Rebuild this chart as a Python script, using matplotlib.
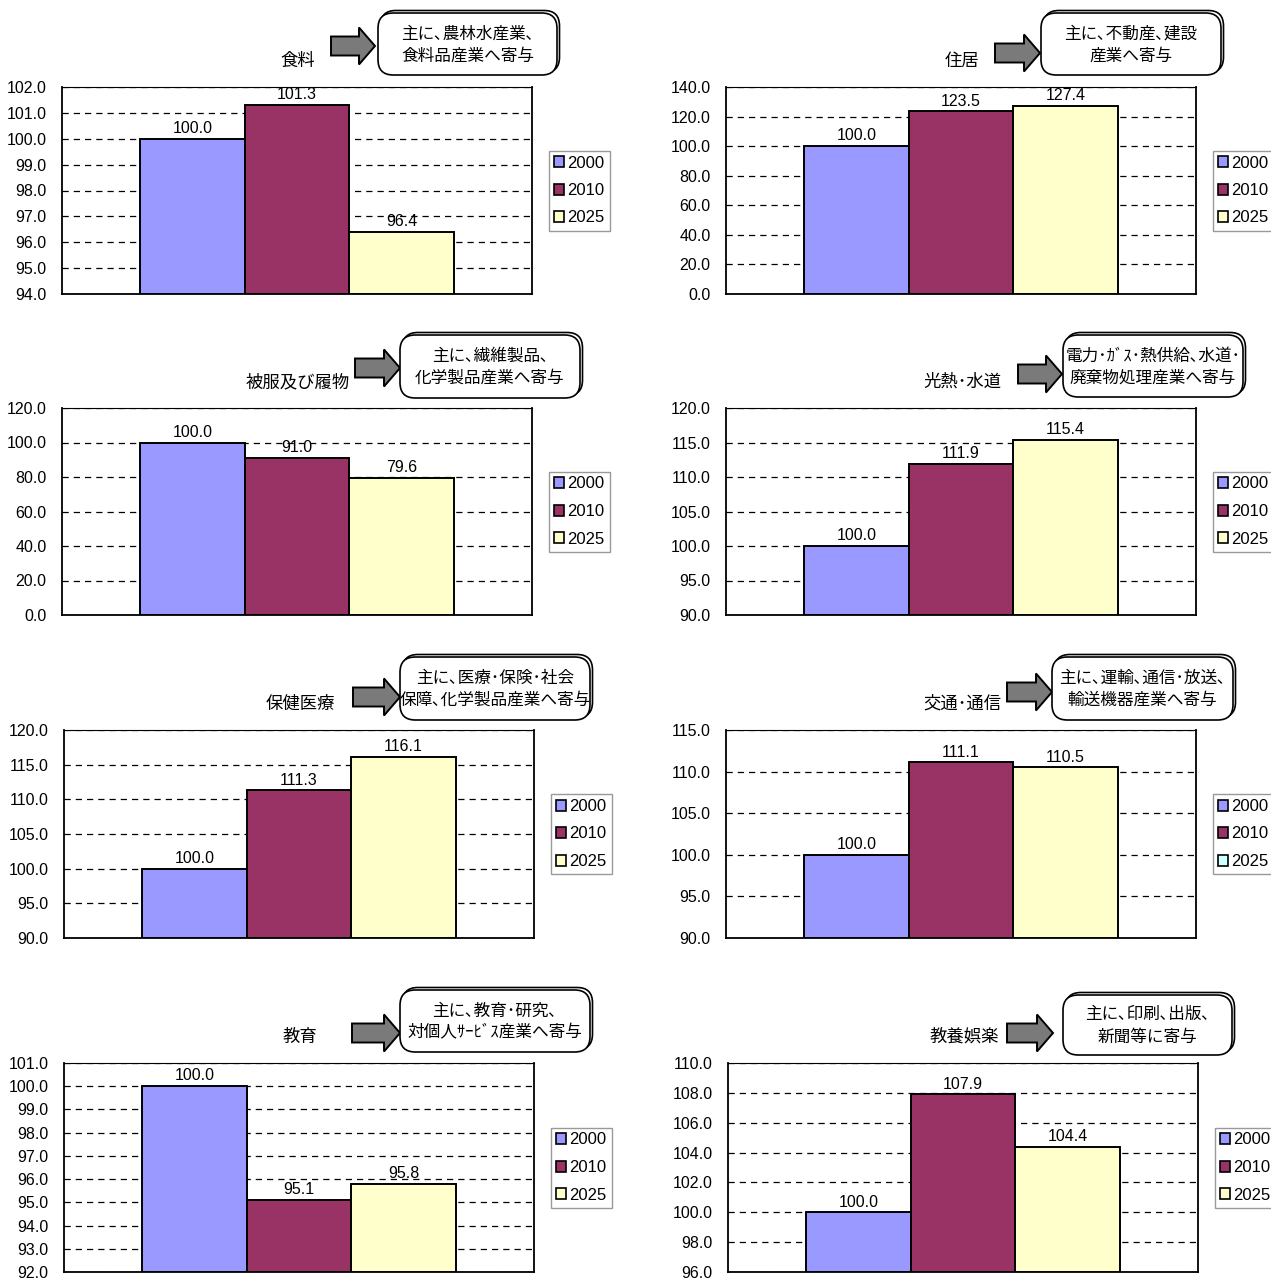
import matplotlib
matplotlib.use("Agg")
import matplotlib.pyplot as plt
from matplotlib.patches import Patch, Polygon, FancyBboxPatch

# 消費支出項目別の指数 (2000年=100)
years = ["2000", "2010", "2025"]
titles = ["食料", "住居", "被服及び履物", "光熱･水道",
          "保健医療", "交通･通信", "教育", "教養娯楽"]
notes = [
    "主に､農林水産業､\n食料品産業へ寄与",
    "主に､不動産､建設\n産業へ寄与",
    "主に､繊維製品､\n化学製品産業へ寄与",
    "電力･ｶﾞｽ･熱供給､水道･\n廃棄物処理産業へ寄与",
    "主に､医療･保険･社会\n保障､化学製品産業へ寄与",
    "主に､運輸､通信･放送､\n輸送機器産業へ寄与",
    "主に､教育･研究､\n対個人ｻｰﾋﾞｽ産業へ寄与",
    "主に､印刷､出版､\n新聞等に寄与",
]
idx_2000 = [100.0, 100.0, 100.0, 100.0, 100.0, 100.0, 100.0, 100.0]
idx_2010 = [101.3, 123.5, 91.0, 111.9, 111.3, 111.1, 95.1, 107.9]
idx_2025 = [96.4, 127.4, 79.6, 115.4, 116.1, 110.5, 95.8, 104.4]
y_min = [94, 0, 0, 90, 90, 90, 92, 96]
y_max = [102, 140, 120, 120, 120, 115, 101, 110]
y_step = [1, 20, 20, 5, 5, 5, 1, 2]

colors = ["#9999FF", "#993366", "#FFFFCC"]
legend_colors = [colors] * 8
legend_colors[5] = ["#9999FF", "#993366", "#CCFFFF"]

W, H = 1271, 1282
NUM_FONT = ["Liberation Sans", "DejaVu Sans"]
JP_FONT = ["Noto Sans CJK JP", "DejaVu Sans"]

# (axes left, axes top, axes height) in pixels
axes_pos = [(62, 87, 207), (726, 87, 207),
            (62, 408, 207), (726, 408, 207),
            (64, 730, 208), (726, 730, 208),
            (64, 1063, 209), (728, 1063, 209)]
# arrow x0, x1, y-mid ; callout box x0, x1, y0, y1
callouts = [(331, 375, 46, 378, 557, 13, 75),
            (995, 1040, 53, 1041, 1221, 13, 75),
            (355, 400, 368, 400, 580, 335, 398),
            (1018, 1062, 374, 1063, 1243, 335, 397),
            (353, 400, 697, 400, 590, 657, 720),
            (1007, 1052, 692, 1052, 1233, 657, 720),
            (352, 400, 1033, 400, 590, 990, 1052),
            (1007, 1053, 1033, 1063, 1232, 995, 1055)]
AX_W = 470


def fx(x):
    return x / W


def fy(y):
    return 1 - y / H


def draw_arrow(fig, x0, x1, ym):
    head = 16
    body = 9.5
    half = 18.5
    pts = [(x0, ym - body), (x1 - head, ym - body), (x1 - head, ym - half),
           (x1, ym), (x1 - head, ym + half), (x1 - head, ym + body),
           (x0, ym + body)]
    fig.patches.append(Polygon([(fx(x), fy(y)) for x, y in pts], closed=True,
                               transform=fig.transFigure, facecolor="#7a7a7a",
                               edgecolor="black", linewidth=1.4))


def draw_callout(fig, text, x0, x1, y0, y1):
    for dx, dy, z in [(2.5, -2.5, 1), (0, 0, 2)]:
        box = FancyBboxPatch((fx(x0 + dx), fy(y1 + dy)), fx(x1 - x0), (y1 - y0) / H,
                             boxstyle="round,pad=0,rounding_size=0.012",
                             transform=fig.transFigure, facecolor="white",
                             edgecolor="black", linewidth=1.2, zorder=z)
        fig.patches.append(box)
    fig.text(fx((x0 + x1) / 2), fy((y0 + y1) / 2 + 1), text, ha="center", va="center",
             family=JP_FONT, fontsize=12, linespacing=1.4, zorder=3)


fig = plt.figure(figsize=(W / 100, H / 100), dpi=100)

for i in range(8):
    left, top, h = axes_pos[i]
    ax = fig.add_axes([fx(left), fy(top + h), AX_W / W, h / H])
    vals = [idx_2000[i], idx_2010[i], idx_2025[i]]
    xs = [-1 / 3, 0, 1 / 3]
    bars = ax.bar(xs, [v - y_min[i] for v in vals], bottom=y_min[i], width=1 / 3,
                  color=colors, edgecolor="black", linewidth=1.4, zorder=3)
    for b, v in zip(bars, vals):
        ax.annotate(f"{v:.1f}", (b.get_x() + b.get_width() / 2, v),
                    xytext=(0, 2), textcoords="offset points", ha="center",
                    va="bottom", family=NUM_FONT, fontsize=11.5, zorder=4)
    ax.set_xlim(-0.75, 0.75)
    ax.set_ylim(y_min[i], y_max[i])
    ticks = list(range(y_min[i], y_max[i] + 1, y_step[i]))
    ax.set_yticks(ticks)
    ax.set_yticklabels([f"{t:.1f}" for t in ticks], family=NUM_FONT, fontsize=11.5)
    ax.set_xticks([])
    ax.tick_params(axis="y", length=0, pad=11)
    ax.yaxis.grid(True, color="black", linestyle=(0, (5, 4)), linewidth=0.9, zorder=0)
    ax.set_axisbelow(True)
    for side, sp in ax.spines.items():
        sp.set_color("black")
        sp.set_linewidth(1.3 if side != "top" else 0.8)

    handles = [Patch(facecolor=c, edgecolor="black", linewidth=1.2)
               for c in legend_colors[i]]
    leg = ax.legend(handles, years, loc="center left",
                    bbox_to_anchor=(1 + 17 / AX_W, 0.5), frameon=True,
                    fancybox=False, prop={"family": NUM_FONT, "size": 12},
                    handlelength=0.6, handleheight=0.65, handletextpad=0.2,
                    labelspacing=0.75, borderpad=0.3, borderaxespad=0)
    leg.get_frame().set_edgecolor("#808080")
    leg.get_frame().set_linewidth(1.0)

    fig.text(fx(left + 236), fy(top - 26), titles[i], ha="center", va="center",
             family=JP_FONT, fontsize=12.5)
    ax0, ax1, ym, bx0, bx1, by0, by1 = callouts[i]
    draw_arrow(fig, ax0, ax1, ym)
    draw_callout(fig, notes[i], bx0, bx1, by0, by1)

fig.savefig("out.png", dpi=100)
